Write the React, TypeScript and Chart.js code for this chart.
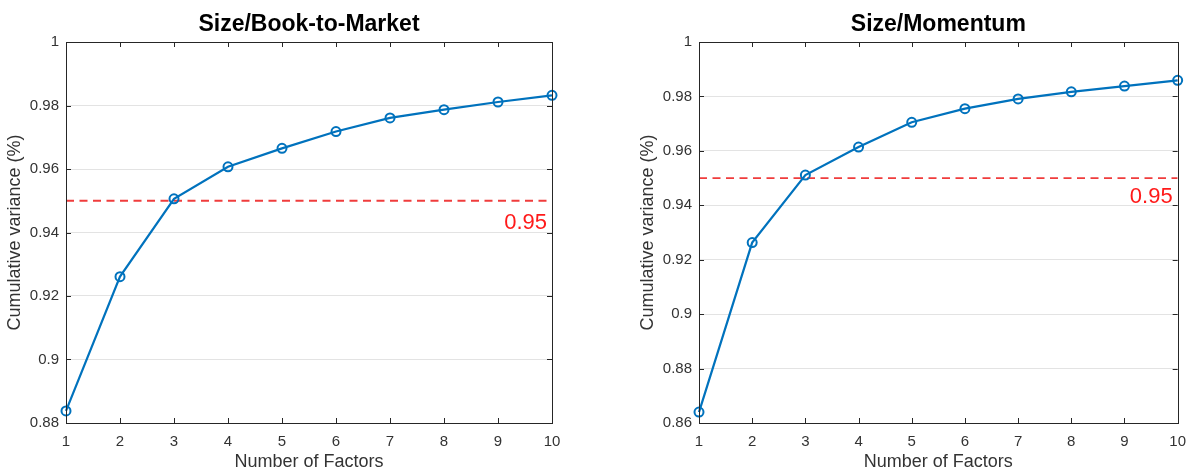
import React, { useEffect, useRef } from "react";
import { Chart, registerables } from "chart.js";

Chart.register(...registerables);

// Number of principal factors retained
const factors = [1, 2, 3, 4, 5, 6, 7, 8, 9, 10];

// Cumulative share of variance explained, by portfolio sort
const sizeBookToMarket = [0.8838, 0.9261, 0.9506, 0.9607, 0.9665, 0.9718, 0.9761, 0.9787, 0.9811, 0.9832];
const sizeMomentum = [0.864, 0.9263, 0.9511, 0.9614, 0.9705, 0.9755, 0.9791, 0.9817, 0.9838, 0.9859];

// Target explained-variance level
const threshold = 0.95;

// Y-axis tick values for each panel
const yTicksBookToMarket = [0.88, 0.9, 0.92, 0.94, 0.96, 0.98, 1];
const yTicksMomentum = [0.86, 0.88, 0.9, 0.92, 0.94, 0.96, 0.98, 1];

const FONT = "'Liberation Sans', Arial, Helvetica, sans-serif";
const AXIS_COLOR = "#262626";
const TEXT_COLOR = "#333333";
const LINE_BLUE = "#0072BD";

type PanelProps = {
  title: string;
  values: number[];
  yTicks: number[];
  yAxisWidth: number;
  rightPad: number;
  left: number;
};

function Panel({ title, values, yTicks, yAxisWidth, rightPad, left }: PanelProps) {
  const ref = useRef<HTMLCanvasElement | null>(null);

  useEffect(() => {
    if (!ref.current) return;

    const decorations = {
      id: "matlabFrame",
      afterDraw(chart: any) {
        const ctx = chart.ctx as CanvasRenderingContext2D;
        const area = chart.chartArea;
        const xs = chart.scales.x;
        const ys = chart.scales.y;
        const tick = 5;
        ctx.save();

        // box around the axes
        ctx.strokeStyle = AXIS_COLOR;
        ctx.lineWidth = 1;
        ctx.strokeRect(
          Math.round(area.left) + 0.5,
          Math.round(area.top) + 0.5,
          Math.round(area.right - area.left),
          Math.round(area.bottom - area.top)
        );

        // inward tick marks on all four sides
        ctx.beginPath();
        factors.forEach((f) => {
          const px = Math.round(xs.getPixelForValue(f)) + 0.5;
          ctx.moveTo(px, area.bottom);
          ctx.lineTo(px, area.bottom - tick);
          ctx.moveTo(px, area.top);
          ctx.lineTo(px, area.top + tick);
        });
        yTicks.forEach((v) => {
          const py = Math.round(ys.getPixelForValue(v)) + 0.5;
          ctx.moveTo(area.left, py);
          ctx.lineTo(area.left + tick, py);
          ctx.moveTo(area.right, py);
          ctx.lineTo(area.right - tick, py);
        });
        ctx.stroke();

        const cx = (area.left + area.right) / 2;
        const cy = (area.top + area.bottom) / 2;

        // panel title
        ctx.fillStyle = "#000000";
        ctx.font = `bold 23px ${FONT}`;
        ctx.textAlign = "center";
        ctx.textBaseline = "alphabetic";
        ctx.fillText(title, cx, 31);

        // x-axis title
        ctx.fillStyle = TEXT_COLOR;
        ctx.font = `18px ${FONT}`;
        ctx.fillText("Number of Factors", cx, 467);

        // y-axis title
        ctx.save();
        ctx.translate(area.left - 51, cy);
        ctx.rotate(-Math.PI / 2);
        ctx.textBaseline = "middle";
        ctx.fillText("Cumulative variance (%)", 0, 0);
        ctx.restore();

        // threshold annotation
        ctx.fillStyle = "#ff1a1a";
        ctx.font = `22px ${FONT}`;
        ctx.textAlign = "right";
        ctx.textBaseline = "alphabetic";
        ctx.fillText(threshold.toFixed(2), area.right - 5, ys.getPixelForValue(0.941));

        ctx.restore();
      },
    };

    const chart = new Chart(ref.current, {
      type: "line",
      data: {
        datasets: [
          {
            data: factors.map((f, i) => ({ x: f, y: values[i] })),
            borderColor: LINE_BLUE,
            borderWidth: 2.2,
            pointStyle: "circle",
            pointRadius: 4.5,
            pointBorderWidth: 2,
            pointBorderColor: LINE_BLUE,
            pointBackgroundColor: "rgba(255,255,255,0)",
            tension: 0,
            clip: false as any,
          },
          {
            data: [
              { x: factors[0], y: threshold },
              { x: factors[factors.length - 1], y: threshold },
            ],
            borderColor: "#f03c3c",
            borderWidth: 1.8,
            borderDash: [8, 5.5],
            pointRadius: 0,
            tension: 0,
          },
        ],
      },
      options: {
        animation: false,
        responsive: false,
        layout: { padding: { top: 42, right: rightPad, left: 0, bottom: 0 } },
        plugins: {
          legend: { display: false },
          title: { display: false },
          tooltip: { enabled: false },
        },
        scales: {
          x: {
            type: "linear",
            min: factors[0],
            max: factors[factors.length - 1],
            grid: { display: false, drawTicks: false },
            border: { display: false },
            afterBuildTicks: (scale: any) => {
              scale.ticks = factors.map((v) => ({ value: v }));
            },
            afterFit: (scale: any) => {
              scale.height = 47;
            },
            ticks: {
              color: TEXT_COLOR,
              font: { family: FONT, size: 15 },
              padding: 10,
              maxRotation: 0,
              autoSkip: false,
              callback: (v: any) => String(v),
            },
          },
          y: {
            min: yTicks[0],
            max: yTicks[yTicks.length - 1],
            grid: { color: "#e3e3e3", lineWidth: 1, drawTicks: false },
            border: { display: false },
            afterBuildTicks: (scale: any) => {
              scale.ticks = yTicks.map((v) => ({ value: v }));
            },
            afterFit: (scale: any) => {
              scale.width = yAxisWidth;
            },
            ticks: {
              color: TEXT_COLOR,
              font: { family: FONT, size: 15 },
              padding: 7,
              autoSkip: false,
              callback: (v: any) => String(Number(Number(v).toFixed(2))),
            },
          },
        },
      },
      plugins: [decorations],
    });

    return () => chart.destroy();
  }, [title, values, yTicks, yAxisWidth, rightPad]);

  return (
    <canvas
      ref={ref}
      width={598}
      height={470}
      style={{ position: "absolute", left, top: 0, width: 598, height: 470, display: "block" }}
    />
  );
}

export default function App() {
  return (
    <div
      style={{
        position: "absolute",
        left: 0,
        top: 0,
        width: 1196,
        height: 470,
        background: "#ffffff",
        overflow: "hidden",
      }}
    >
      <Panel
        title="Size/Book-to-Market"
        values={sizeBookToMarket}
        yTicks={yTicksBookToMarket}
        yAxisWidth={66}
        rightPad={46}
        left={0}
      />
      <Panel
        title="Size/Momentum"
        values={sizeMomentum}
        yTicks={yTicksMomentum}
        yAxisWidth={101}
        rightPad={11}
        left={598}
      />
    </div>
  );
}
